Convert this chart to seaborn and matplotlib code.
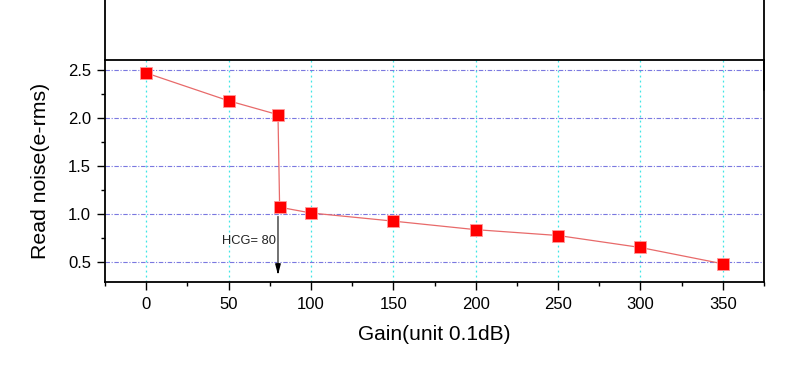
import matplotlib

matplotlib.use("Agg")

import matplotlib.pyplot as plt
from matplotlib.lines import Line2D
from matplotlib.ticker import MultipleLocator
import seaborn as sns

# -----------------------------
# Data
# -----------------------------
gain = [0, 50, 80, 81, 100, 150, 200, 250, 300, 350]
noise = [2.47, 2.18, 2.035, 1.07, 1.01, 0.925, 0.836, 0.775, 0.65, 0.48]

hcg_gain = 80
hcg_label = "HCG= 80"

# -----------------------------
# Plot Style
# -----------------------------
sns.set_theme(style="ticks")
plt.rcParams["font.family"] = ["Liberation Sans", "DejaVu Sans"]

fig = plt.figure(figsize=(8, 3.7), dpi=100)
ax = fig.add_axes([0.13125, 0.2378, 0.82375, 0.5987])

sns.lineplot(x=gain, y=noise, ax=ax, color="#e86a6a", linewidth=0.9, sort=False, zorder=3)
sns.scatterplot(
    x=gain,
    y=noise,
    ax=ax,
    marker="s",
    s=70,
    color="#ff0000",
    edgecolor="#ff9a9a",
    linewidth=0.6,
    zorder=4,
)

ax.set_xlim(-25, 375)
ax.set_ylim(0.29, 2.6)

ax.xaxis.set_major_locator(MultipleLocator(50))
ax.xaxis.set_minor_locator(MultipleLocator(25))
ax.yaxis.set_major_locator(MultipleLocator(0.5))
ax.yaxis.set_minor_locator(MultipleLocator(0.25))

ax.tick_params(which="major", direction="out", length=6, width=1.0, colors="black",
               labelsize=12)
ax.tick_params(which="minor", direction="out", length=3, width=1.0, colors="black")
ax.tick_params(axis="x", which="major", pad=5)
ax.tick_params(axis="y", which="major", pad=4)

# grid lines
ax.xaxis.grid(True, which="major", color="#3fe6e6", linestyle=(0, (1.5, 2.5)), linewidth=0.9)
ax.yaxis.grid(True, which="major", color="#7a78e0", linestyle=(0, (4, 1.5, 1, 1.5)), linewidth=0.8)
ax.set_axisbelow(True)

for side in ["left", "right", "top", "bottom"]:
    ax.spines[side].set_visible(True)
    ax.spines[side].set_color("black")
    ax.spines[side].set_linewidth(1.3)

ax.set_xlabel("Gain(unit 0.1dB)", fontsize=15, labelpad=9, color="black")
ax.set_ylabel("Read noise(e-rms)", fontsize=15.3, labelpad=13, color="black")

# HCG annotation: grey shaft, black head
ax.annotate(
    "",
    xy=(hcg_gain, 0.36),
    xytext=(hcg_gain, 1.0),
    arrowprops=dict(arrowstyle="-", color="#666666", lw=1.3),
    zorder=5,
)
ax.annotate(
    "",
    xy=(hcg_gain, 0.335),
    xytext=(hcg_gain, 0.45),
    arrowprops=dict(arrowstyle="-|>,head_width=0.13,head_length=0.5", color="black", lw=1.0),
    zorder=5,
)
ax.text(hcg_gain - 1.5, 0.715, hcg_label, fontsize=9.3, ha="right", va="center", color="#222222")

# frame lines continuing above the plot area (cropped original)
fig.add_artist(Line2D([0.13125, 0.13125], [0.8365, 1.0], color="black", lw=1.3,
                      transform=fig.transFigure))
fig.add_artist(Line2D([0.955, 0.955], [0.757, 1.0], color="black", lw=1.3,
                      transform=fig.transFigure))

plt.savefig("out.png", dpi=100)
plt.close()
